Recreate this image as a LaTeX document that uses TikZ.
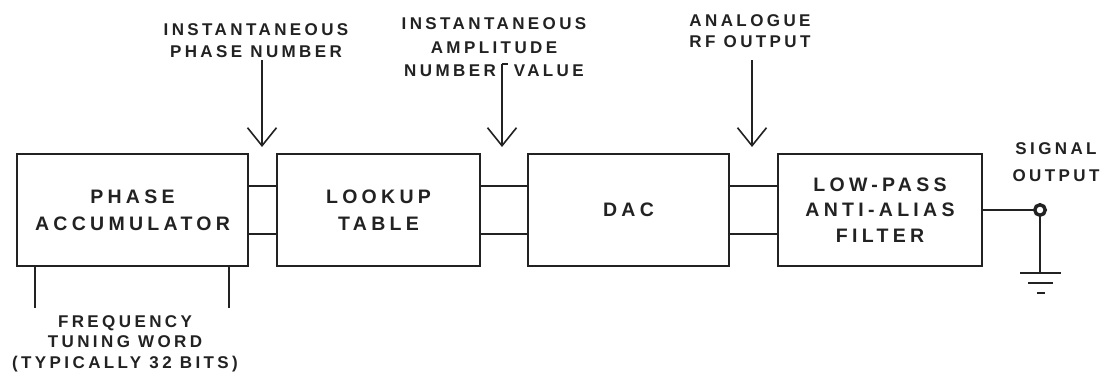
\documentclass[tikz,border=0pt]{standalone}
\usepackage{fontspec}
\usetikzlibrary{arrows.meta}
\newfontfamily\lblfont[LetterSpace=20]{Liberation Sans}
\newfontfamily\blkfont[LetterSpace=22]{Liberation Sans}
\definecolor{ink}{HTML}{222222}
\begin{document}
\begin{tikzpicture}[x=1pt,y=-1pt,
  block/.style={draw=ink, line width=1.6pt, minimum height=112pt, inner sep=0pt,
    align=center, text=ink, font=\blkfont\bfseries\fontsize{19.5}{27}\selectfont},
  label/.style={align=center, text=ink, inner sep=0pt,
    font=\lblfont\bfseries\fontsize{17}{22.5}\selectfont},
  wire/.style={draw=ink, line width=1.6pt},
  probe/.style={draw=ink, line width=1.6pt, -{Straight Barb[length=18pt,width=29pt,line width=1.6pt]}}]
\useasboundingbox (0,0) rectangle (1110,378);
\fill[white] (0,0) rectangle (1110,378);

% signal chain
\node[block, minimum width=231pt] (acc) at (132.5,210) {PHASE\\ACCUMULATOR};
\node[block, minimum width=203pt] (lut) at (378.5,210) {LOOKUP\\TABLE};
\node[block, minimum width=201pt] (dac) at (628.5,210) {DAC};
\node[block, minimum width=204pt, font=\blkfont\bfseries\fontsize{19.5}{25.5}\selectfont] (lpf) at (880,210) {LOW-PASS\\ANTI-ALIAS\\FILTER};

% parallel buses between stages
\foreach \a/\b in {acc/lut, lut/dac, dac/lpf}{
  \draw[wire] ([yshift=24pt]\a.east) -- ([yshift=24pt]\b.west);
  \draw[wire] ([yshift=-24pt]\a.east) -- ([yshift=-24pt]\b.west);
}

% tuning word input
\coordinate (ftwL) at (35,308);
\coordinate (ftwR) at (229,308);
\draw[wire] (acc.south -| ftwL) -- (ftwL);
\draw[wire] (acc.south -| ftwR) -- (ftwR);
\node[label, font=\lblfont\bfseries\fontsize{17}{20.5}\selectfont] (ftw) at (125,343.5)
  {FREQUENCY\\TUNING WORD\\(TYPICALLY 32 BITS)};

% probe points
\node[label] (phase) at (256,40.5) {INSTANTANEOUS\\PHASE NUMBER};
\coordinate (p1s) at (262,60);
\coordinate (p1e) at (262,147);
\draw[probe] (p1s) -- (p1e);

\node[label, font=\lblfont\bfseries\fontsize{17}{23.5}\selectfont] (ampl) at (494,47.5)
  {INSTANTANEOUS\\AMPLITUDE\\NUMBER\hspace{18pt}VALUE};
\coordinate (p2t) at (508,64);
\coordinate (p2s) at (502,64);
\coordinate (p2e) at (502,147);
\draw[wire] (p2t) -- (p2s);
\draw[probe] (p2s) -- (p2e);

\node[label, font=\lblfont\bfseries\fontsize{17}{21}\selectfont] (rf) at (750,31.5)
  {ANALOGUE\\RF OUTPUT};
\coordinate (p3s) at (752,60);
\coordinate (p3e) at (752,147);
\draw[probe] (p3s) -- (p3e);

% output jack and ground
\node[label, font=\lblfont\bfseries\fontsize{17}{27}\selectfont] (out) at (1056,162.5)
  {SIGNAL\\OUTPUT};
\node[draw=ink, line width=3.4pt, circle, minimum size=10.5pt, inner sep=0pt] (jack) at (1040,210) {};
\draw[wire] (lpf.east) -- (jack.west);
\coordinate (gnd) at (1040,273);
\draw[wire] (jack.south) -- (gnd);
\draw[wire] (1020,273) -- (1061,273);
\draw[wire] (1028,283) -- (1053,283);
\draw[wire] (1037,293) -- (1045,293);
\end{tikzpicture}
\end{document}
